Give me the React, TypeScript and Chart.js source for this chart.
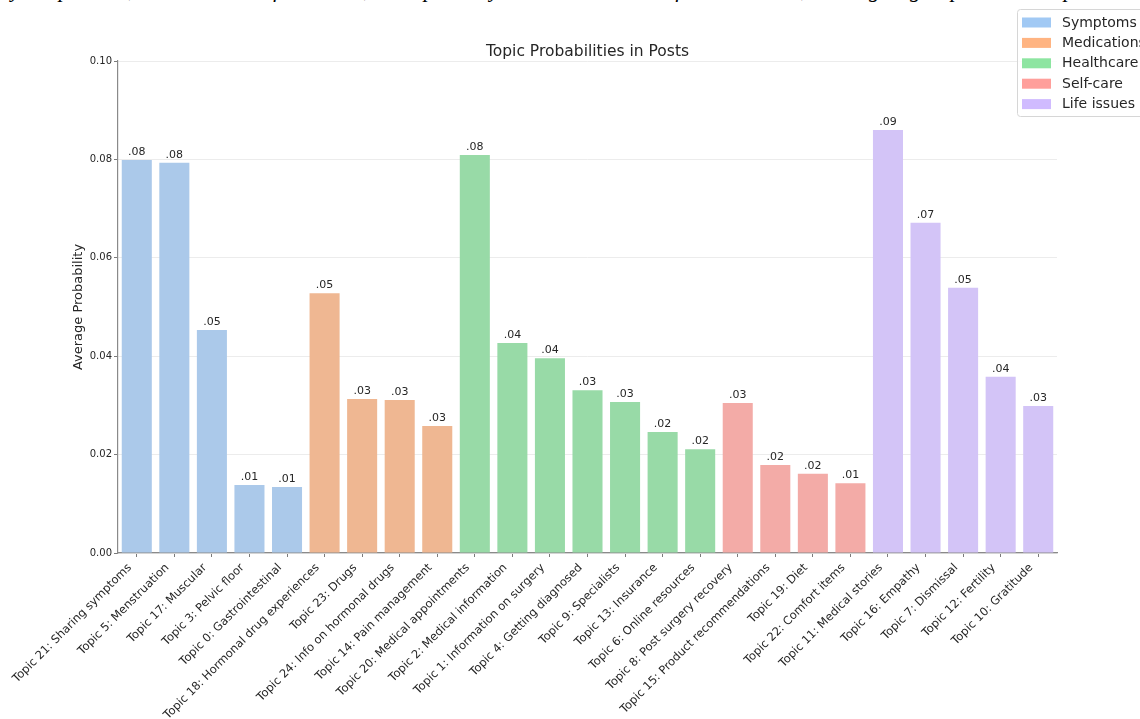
import React, { useEffect, useRef } from "react";
import { Chart, registerables } from "chart.js";

Chart.register(...registerables);

// ---- data ----
const categories = [
  "Topic 21: Sharing symptoms",
  "Topic 5: Menstruation",
  "Topic 17: Muscular",
  "Topic 3: Pelvic floor",
  "Topic 0: Gastrointestinal",
  "Topic 18: Hormonal drug experiences",
  "Topic 23: Drugs",
  "Topic 24: Info on hormonal drugs",
  "Topic 14: Pain management",
  "Topic 20: Medical appointments",
  "Topic 2: Medical information",
  "Topic 1: Information on surgery",
  "Topic 4: Getting diagnosed",
  "Topic 9: Specialists",
  "Topic 13: Insurance",
  "Topic 6: Online resources",
  "Topic 8: Post surgery recovery",
  "Topic 15: Product recommendations",
  "Topic 19: Diet",
  "Topic 22: Comfort items",
  "Topic 11: Medical stories",
  "Topic 16: Empathy",
  "Topic 7: Dismissal",
  "Topic 12: Fertility",
  "Topic 10: Gratitude",
];

const groupNames = ["Symptoms", "Medications", "Healthcare", "Self-care", "Life issues"];
const groupOfCategory = [0, 0, 0, 0, 0, 1, 1, 1, 1, 2, 2, 2, 2, 2, 2, 2, 3, 3, 3, 3, 4, 4, 4, 4, 4];

const symptomsValues = [0.0799, 0.0793, 0.0453, 0.0138, 0.0134];
const medicationsValues = [0.0528, 0.0313, 0.0311, 0.0258];
const healthcareValues = [0.0809, 0.0427, 0.0396, 0.0331, 0.0307, 0.0246, 0.0211];
const selfCareValues = [0.0305, 0.0179, 0.0161, 0.0142];
const lifeIssuesValues = [0.086, 0.0671, 0.0539, 0.0358, 0.0299];

const yTickValues = [0, 0.02, 0.04, 0.06, 0.08, 0.1];

const chartTitle = "Topic Probabilities in Posts";
const yAxisTitle = "Average Probability";
const clippedCaption =
  "by the patients, which listed in four areas, the top and by the most common of all the labels, the largest groups and the top sets in the discussion by the authors";

// styles
const barColors = ["#abc9ea", "#efb792", "#98daa7", "#f3aba7", "#d3c4f7"];
const legendColors = ["#a1c9f4", "#ffb482", "#8de5a1", "#ff9f9b", "#d0bbff"];

const FONT = "'DejaVu Sans', 'Liberation Sans', sans-serif";

function buildDatasets() {
  const groups = [symptomsValues, medicationsValues, healthcareValues, selfCareValues, lifeIssuesValues];
  const counters = [0, 0, 0, 0, 0];
  const data: (number | null)[][] = groups.map(() => []);
  categories.forEach((_, i) => {
    const g = groupOfCategory[i];
    groups.forEach((_, k) => {
      if (k === g) {
        data[k].push(groups[g][counters[g]]);
        counters[g]++;
      } else data[k].push(null);
    });
  });
  return groupNames.map((name, k) => ({
    label: name,
    data: data[k],
    backgroundColor: barColors[k],
    borderWidth: 0,
    grouped: false,
    barPercentage: 0.8,
    categoryPercentage: 1,
  }));
}

const valueLabelPlugin = {
  id: "valueLabels",
  afterDatasetsDraw(chart: any) {
    const ctx = chart.ctx;
    ctx.save();
    ctx.font = `11px ${FONT}`;
    ctx.fillStyle = "#262626";
    ctx.textAlign = "center";
    ctx.textBaseline = "alphabetic";
    chart.data.datasets.forEach((ds: any, di: number) => {
      const meta = chart.getDatasetMeta(di);
      meta.data.forEach((el: any, i: number) => {
        const v = ds.data[i];
        if (v == null) return;
        const txt = v.toFixed(2).replace(/^0/, "");
        ctx.fillText(txt, el.x, el.y - 5);
      });
    });
    ctx.restore();
  },
};

const titlePlugin = {
  id: "centeredTitle",
  afterDraw(chart: any) {
    const ctx = chart.ctx;
    const area = chart.chartArea;
    ctx.save();
    ctx.font = `15.5px ${FONT}`;
    ctx.fillStyle = "#262626";
    ctx.textAlign = "center";
    ctx.textBaseline = "alphabetic";
    ctx.fillText(chartTitle, (area.left + area.right) / 2, area.top - 5.5);
    ctx.restore();
  },
};

const legendPlugin = {
  id: "customLegend",
  afterDraw(chart: any) {
    const ctx = chart.ctx;
    const x0 = 1017.5;
    const y0 = 9.5;
    const w = 140;
    const h = 107;
    ctx.save();
    ctx.fillStyle = "rgba(255,255,255,0.85)";
    ctx.strokeStyle = "#d6d6d6";
    ctx.lineWidth = 1;
    ctx.beginPath();
    (ctx as any).roundRect(x0, y0, w, h, 3);
    ctx.fill();
    ctx.stroke();
    ctx.font = `14px ${FONT}`;
    ctx.textBaseline = "middle";
    ctx.textAlign = "left";
    groupNames.forEach((name, k) => {
      const cy = 22.5 + k * 20.4;
      ctx.fillStyle = legendColors[k];
      ctx.fillRect(1022, cy - 5, 29, 10);
      ctx.fillStyle = "#262626";
      ctx.fillText(name, 1062, cy + 0.5);
    });
    ctx.restore();
  },
};

export default function App() {
  const canvasRef = useRef<HTMLCanvasElement | null>(null);

  useEffect(() => {
    if (!canvasRef.current) return;
    const chart = new Chart(canvasRef.current, {
      type: "bar",
      data: { labels: categories, datasets: buildDatasets() as any },
      options: {
        animation: false,
        responsive: false,
        devicePixelRatio: 1,
        layout: { padding: { left: 60, right: 83, top: 61, bottom: 0 } },
        plugins: {
          legend: { display: false },
          tooltip: { enabled: false },
          title: { display: false },
        },
        scales: {
          x: {
            type: "category",
            offset: true,
            grid: {
              display: true,
              drawOnChartArea: false,
              offset: false,
              drawTicks: true,
              tickLength: 4,
              tickColor: "#7a7a7a",
              color: "#7a7a7a",
            },
            border: { color: "#8a8a8a", width: 1.2 },
            ticks: {
              autoSkip: false,
              maxRotation: 45,
              minRotation: 45,
              padding: 4,
              labelOffset: -7,
              color: "#262626",
              font: { family: FONT, size: 11.5 },
            },
            afterFit(scale: any) {
              scale.height = 166;
              scale.paddingLeft = 0;
              scale.paddingRight = 0;
            },
          },
          y: {
            min: 0,
            max: 0.1,
            afterBuildTicks(scale: any) {
              scale.ticks = yTickValues.map((v) => ({ value: v }));
            },
            grid: {
              color: "#ececec",
              drawTicks: true,
              tickLength: 4,
              tickColor: "#7a7a7a",
            },
            border: { color: "#8a8a8a", width: 1.2 },
            ticks: {
              padding: 2,
              color: "#262626",
              font: { family: FONT, size: 10 },
              callback: (v: any) => Number(v).toFixed(2),
            },
            title: {
              display: true,
              text: yAxisTitle,
              color: "#262626",
              font: { family: FONT, size: 13 },
              padding: { top: 11, bottom: 0 },
            },
            afterFit(scale: any) {
              scale.width = 58;
            },
          },
        },
      },
      plugins: [valueLabelPlugin, titlePlugin, legendPlugin],
    });
    return () => chart.destroy();
  }, []);

  return (
    <div
      style={{
        position: "fixed",
        left: 0,
        top: 0,
        width: 1140,
        height: 719,
        overflow: "hidden",
        background: "#fff",
      }}
    >
      <div
        style={{
          position: "absolute",
          left: 0,
          top: -23,
          whiteSpace: "nowrap",
          fontFamily: "'Liberation Serif', serif",
          fontStyle: "italic",
          fontSize: 22,
          color: "#000",
        }}
      >
        {clippedCaption}
      </div>
      <canvas ref={canvasRef} width={1140} height={719} style={{ position: "absolute", left: 0, top: 0 }} />
    </div>
  );
}
